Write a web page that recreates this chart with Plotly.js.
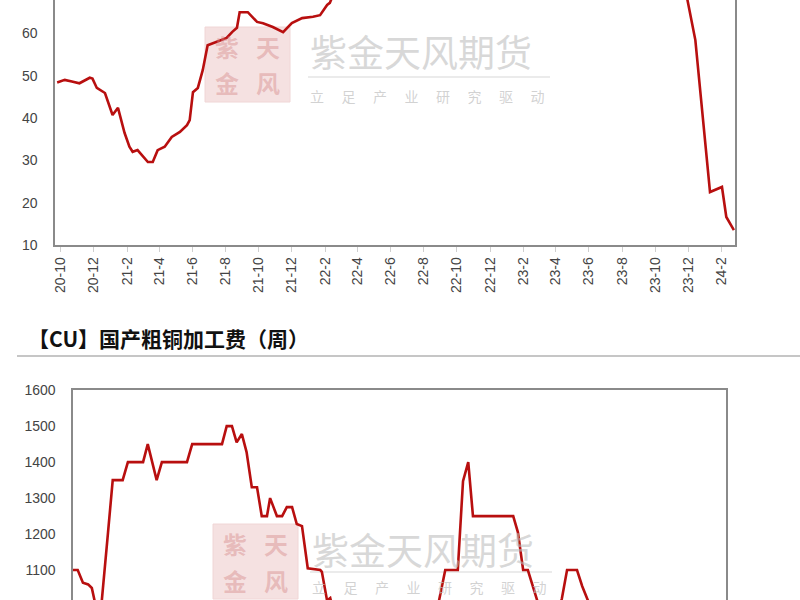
<!DOCTYPE html>
<html>
<head>
<meta charset="utf-8">
<script src="https://cdn.plot.ly/plotly-3.0.1.min.js"></script>
<style>
  html, body { margin: 0; padding: 0; background: #ffffff; }
  #chart { width: 800px; height: 600px; }
</style>
</head>
<body>
<div id="chart"></div>
<script>
// ---- Top chart: copper concentrate TC (weekly) ----
const tcDates = [
  '2020-09-25','2020-10-09','2020-10-22','2020-11-05','2020-11-24','2020-11-29',
  '2020-12-07','2020-12-22','2021-01-05','2021-01-15','2021-01-27','2021-02-05',
  '2021-02-11','2021-02-20','2021-03-11','2021-03-20','2021-03-29','2021-04-11',
  '2021-04-24','2021-05-09','2021-05-22','2021-05-27','2021-06-02','2021-06-11',
  '2021-06-20','2021-06-29','2021-07-16','2021-08-03','2021-08-13','2021-08-22',
  '2021-08-27','2021-09-11','2021-09-28','2021-10-09','2021-10-27','2021-11-15',
  '2021-12-01','2021-12-20','2022-01-09','2022-01-22','2022-02-04','2022-02-09',
  '2022-02-18','2022-03-18','2022-05-13','2022-07-15','2022-09-16','2022-11-18',
  '2023-01-13','2023-03-17','2023-05-19','2023-07-14','2023-09-15','2023-10-27',
  '2023-11-17','2023-12-14','2023-12-27','2024-01-10','2024-02-01','2024-02-09',
  '2024-02-23'
];
const tcValues = [
  48.4, 49.0, 48.6, 48.2, 49.5, 49.3,
  47.1, 45.9, 40.7, 42.4, 36.5, 33.2,
  32.0, 32.4, 29.6, 29.6, 32.4, 33.2,
  35.5, 36.7, 38.3, 39.5, 46.1, 47.1,
  51.3, 57.2, 58.0, 58.9, 60.3, 61.3,
  65.0, 65.0, 62.7, 62.4, 61.5, 60.3,
  62.4, 63.6, 63.9, 64.3, 66.7, 67.2,
  70, 72, 75, 78, 80, 85,
  86, 82, 88, 90, 93, 88,
  76, 58.4, 41.9, 22.5, 23.7, 16.6,
  13.5
];
const tickDates = [
  '2020-10-01','2020-12-01','2021-02-01','2021-04-01','2021-06-01','2021-08-01',
  '2021-10-01','2021-12-01','2022-02-01','2022-04-01','2022-06-01','2022-08-01',
  '2022-10-01','2022-12-01','2023-02-01','2023-04-01','2023-06-01','2023-08-01',
  '2023-10-01','2023-12-01','2024-02-01'
];
const tickLabels = [
  '20-10','20-12','21-2','21-4','21-6','21-8','21-10','21-12','22-2','22-4',
  '22-6','22-8','22-10','22-12','23-2','23-4','23-6','23-8','23-10','23-12','24-2'
];

// ---- Bottom chart: domestic blister copper processing fee (weekly) ----
const feeDates = [
  '2020-09-22','2020-10-01','2020-10-11','2020-10-21','2020-10-28','2020-11-03',
  '2020-11-12','2020-11-28','2020-12-07','2020-12-26','2021-01-05','2021-02-03',
  '2021-02-12','2021-03-01','2021-03-11','2021-04-28','2021-05-08','2021-07-04',
  '2021-07-13','2021-07-23','2021-08-01','2021-08-11','2021-08-20','2021-08-30',
  '2021-09-09','2021-09-18','2021-09-28','2021-10-04','2021-10-17','2021-10-27',
  '2021-11-05','2021-11-15','2021-11-24','2021-12-04','2021-12-15','2022-01-08',
  '2022-01-11','2022-01-21','2022-01-27','2022-02-03','2022-02-15','2022-05-02',
  '2022-07-18','2022-08-21','2022-09-04','2022-09-28','2022-10-08','2022-10-18',
  '2022-10-27','2023-01-12','2023-01-21','2023-01-31','2023-02-09','2023-02-27',
  '2023-03-14','2023-04-02','2023-04-15','2023-04-25','2023-05-14','2023-05-24',
  '2023-06-04','2023-06-27','2023-10-01','2024-01-04','2024-02-23'
];
const feeValues = [
  1100, 1100, 1065, 1060, 1050, 1000,
  950, 1205, 1350, 1350, 1400, 1400,
  1450, 1350, 1400, 1400, 1450, 1450,
  1500, 1500, 1455, 1478, 1428, 1330,
  1330, 1250, 1250, 1300, 1250, 1250,
  1275, 1275, 1228, 1222, 1105, 1100,
  1095, 1015, 1022, 980, 950, 900,
  950, 1000, 1100, 1100, 1347, 1400,
  1250, 1250, 1205, 1100, 1100, 1015,
  950, 960, 1020, 1100, 1100, 1055,
  1015, 950, 980, 950, 970
];

const titleText = '【CU】国产粗铜加工费（周）';
const wmName = '紫金天风期货';
const SP = '\u2003\u2005';
const wmSlogan = ['立', '足', '产', '业', '研', '究', '驱', '动'].join(SP);

const W = 800, H = 600;
const px = v => v / W;
const py = v => 1 - v / H;

const LINE = '#b80f0f';
const AXIS = '#8a8a8a';
const TICKFONT = {family: 'Liberation Sans, Arial, sans-serif', size: 14, color: '#444444'};

const traces = [
  {x: tcDates, y: tcValues, type: 'scatter', mode: 'lines', xaxis: 'x', yaxis: 'y',
   line: {color: LINE, width: 2.6}, hoverinfo: 'skip'},
  {x: feeDates, y: feeValues, type: 'scatter', mode: 'lines', xaxis: 'x2', yaxis: 'y2',
   line: {color: LINE, width: 2.6}, hoverinfo: 'skip'}
];

function watermark(o) {
  const shapes = [
    {type: 'rect', xref: 'paper', yref: 'paper', layer: 'below',
     x0: px(205 + o.lx), x1: px(290 + o.lx), y0: py(102 + o.ly), y1: py(27 + o.ly),
     fillcolor: '#f5e1e1', line: {color: '#f0d6d6', width: 1}},
    {type: 'line', xref: 'paper', yref: 'paper', layer: 'below',
     x0: px(308 + o.tx), x1: px(550 + o.tx), y0: py(o.lineY), y1: py(o.lineY),
     line: {color: '#e4e4e4', width: 1.5}}
  ];
  const ch = (t, x, y) => ({text: t, xref: 'paper', yref: 'paper', x: px(x), y: py(y),
    xanchor: 'center', yanchor: 'middle', showarrow: false,
    font: {family: 'Noto Sans CJK SC', size: 24, color: 'rgba(214,140,140,0.45)', weight: 'bold'}});
  const anns = [
    ch('紫', 227 + o.lx, 46 + o.ly), ch('天', 268 + o.lx, 46 + o.ly),
    ch('金', 227 + o.lx, 83 + o.ly), ch('风', 268 + o.lx, 83 + o.ly),
    {text: wmName, xref: 'paper', yref: 'paper', x: px(308 + o.tx), y: py(o.ty),
     xanchor: 'left', yanchor: 'middle', showarrow: false,
     font: {family: 'Noto Sans CJK SC', size: 37, color: 'rgba(190,190,190,0.6)'}},
    {text: wmSlogan, xref: 'paper', yref: 'paper', x: px(308 + o.tx), y: py(o.sy),
     xanchor: 'left', yanchor: 'middle', showarrow: false,
     font: {family: 'Noto Sans CJK SC', size: 14, color: 'rgba(190,190,190,0.7)'}}
  ];
  return {shapes, anns};
}

const wm1 = watermark({lx: 0, tx: 0, ly: 0, ty: 51, lineY: 77, sy: 96});
const wm2 = watermark({lx: 8, tx: 2, ly: 497, ty: 549, lineY: 572, sy: 587});

const layout = {
  width: W, height: H,
  margin: {l: 0, r: 0, t: 0, b: 0},
  paper_bgcolor: '#ffffff', plot_bgcolor: '#ffffff',
  showlegend: false,
  xaxis: {
    domain: [px(55), px(735)], anchor: 'y', type: 'date',
    range: ['2020-09-21', '2024-02-25'],
    tickmode: 'array', tickvals: tickDates, ticktext: tickLabels, tickangle: -90,
    tickfont: TICKFONT, showline: true, linecolor: AXIS, linewidth: 1.6,
    ticks: 'outside', ticklen: 5, tickcolor: '#cfcfcf', showgrid: false, zeroline: false
  },
  yaxis: {
    domain: [py(245), 1], anchor: 'x',
    range: [9.98, 67.88], tickmode: 'array', tickvals: [10, 20, 30, 40, 50, 60],
    tickfont: TICKFONT, showline: true, mirror: true, linecolor: AXIS, linewidth: 1.6,
    ticks: '', ticklabelstandoff: 13, showgrid: false, zeroline: false
  },
  xaxis2: {
    domain: [px(73), px(726)], anchor: 'y2', type: 'date',
    range: ['2020-09-22', '2024-02-23'],
    showticklabels: false, ticks: '', showline: true, mirror: true,
    linecolor: AXIS, linewidth: 1.6, showgrid: false, zeroline: false
  },
  yaxis2: {
    domain: [0, 1 - 390 / H], anchor: 'x2',
    range: [1016.7, 1600.5], tickmode: 'array', tickvals: [1100, 1200, 1300, 1400, 1500, 1600],
    tickfont: TICKFONT, showline: true, mirror: true, linecolor: AXIS, linewidth: 1.6,
    ticks: '', ticklabelstandoff: 13, showgrid: false, zeroline: false
  },
  shapes: [
    ...wm1.shapes, ...wm2.shapes,
    {type: 'line', xref: 'paper', yref: 'paper', x0: px(17), x1: 1, y0: py(356), y1: py(356),
     line: {color: '#c6c6c6', width: 2}}
  ],
  annotations: [
    ...wm1.anns, ...wm2.anns,
    {text: titleText, xref: 'paper', yref: 'paper', x: px(26), y: py(338),
     xanchor: 'left', yanchor: 'middle', showarrow: false,
     font: {family: 'Noto Sans CJK SC', size: 21, color: '#111111', weight: 'bold'}}
  ]
};

Plotly.newPlot('chart', traces, layout, {displayModeBar: false, staticPlot: true});
</script>
</body>
</html>
